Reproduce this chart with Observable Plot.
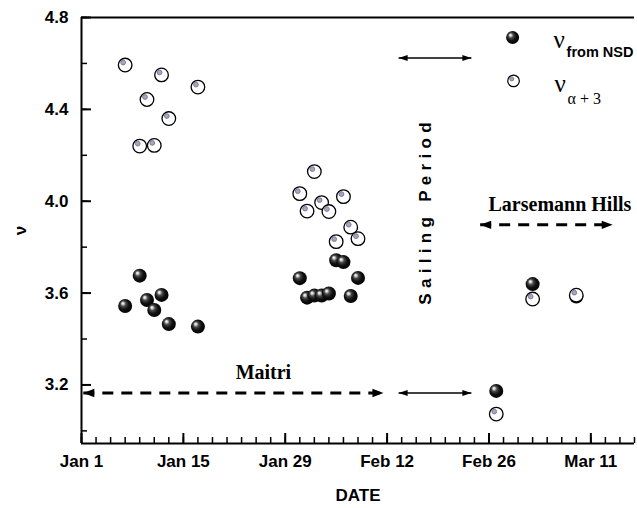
<!DOCTYPE html>
<html><head><meta charset="utf-8">
<script src="https://cdn.jsdelivr.net/npm/d3@7"></script>
<script src="https://cdn.jsdelivr.net/npm/@observablehq/plot@0.6"></script>
<style>body{margin:0;background:#fff}</style>
</head><body><div id="chart"></div>
<script>
// ---- data ----
const nsdDates = ["2004-01-07","2004-01-09","2004-01-10","2004-01-11","2004-01-12","2004-01-13","2004-01-17",
  "2004-01-31","2004-02-01","2004-02-02","2004-02-03","2004-02-04","2004-02-05","2004-02-06","2004-02-07","2004-02-08",
  "2004-02-27","2004-03-03","2004-03-09"];
const nsdValues = [3.544,3.676,3.570,3.526,3.592,3.465,3.454,
  3.665,3.580,3.589,3.589,3.598,3.743,3.735,3.587,3.666,
  3.174,3.639,3.585];
const alphaDates = ["2004-01-07","2004-01-09","2004-01-10","2004-01-11","2004-01-12","2004-01-13","2004-01-17",
  "2004-01-31","2004-02-01","2004-02-02","2004-02-03","2004-02-04","2004-02-05","2004-02-06","2004-02-07","2004-02-08",
  "2004-02-27","2004-03-03","2004-03-09"];
const alphaValues = [4.593,4.240,4.443,4.243,4.550,4.360,4.497,
  4.033,3.957,4.129,3.994,3.955,3.824,4.020,3.887,3.837,
  3.073,3.574,3.591];

const xTickDates = ["2004-01-01","2004-01-15","2004-01-29","2004-02-12","2004-02-26","2004-03-11"];
const yTickValues = [3.2,3.6,4.0,4.4,4.8];
const xDomain = ["2004-01-01","2004-03-17"];
const yDomain = [2.945, 4.8];

// annotations
const dashedStart = ["2004-01-01T06:00Z","2004-02-24T19:00Z"];
const dashedEnd   = ["2004-02-11T12:00Z","2004-03-14T00:00Z"];
const dashedValue = [3.165, 3.897];
const solidStart = ["2004-02-13T14:00Z","2004-02-13T14:00Z"];
const solidEnd   = ["2004-02-23T14:00Z","2004-02-23T14:00Z"];
const solidValue = [4.624, 3.165];
const placeLabels = ["Maitri","Larsemann Hills"];
const placeDates = ["2004-01-26T00:00Z","2004-03-06T18:00Z"];
const placeValues = [3.253, 3.985];
const sailLabel = ["Sailing Period"];
const sailDate = ["2004-02-17T07:00Z"];
const sailValue = [3.958];
const legendKinds = ["nsd","alpha"];
const legendSubs = ["from NSD","α + 3"];
const legendDates = ["2004-02-29T06:00Z","2004-02-29T09:00Z"];
const legendValues = [4.713, 4.524];

// ---- tables ----
const D = s => new Date(s);
const nsd = nsdDates.map((d,i) => ({date: D(d), v: nsdValues[i]}));
const alpha = alphaDates.map((d,i) => ({date: D(d), v: alphaValues[i]}));
const dashed = dashedStart.map((d,i) => ({a: D(d), b: D(dashedEnd[i]), v: dashedValue[i]}));
const solid = solidStart.map((d,i) => ({a: D(d), b: D(solidEnd[i]), v: solidValue[i]}));
const places = placeLabels.map((t,i) => ({t, date: D(placeDates[i]), v: placeValues[i]}));
const sail = sailLabel.map((t,i) => ({t, date: D(sailDate[i]), v: sailValue[i]}));
const legend = legendKinds.map((k,i) => ({k, sub: legendSubs[i], date: D(legendDates[i]), v: legendValues[i]}));
const x0 = D(xDomain[0]), x1 = D(xDomain[1]);
const xTicks = xTickDates.map(D);
const xMinor = d3.range(0, 77, 2).map(k => d3.utcDay.offset(x0, k));
const yMinor = d3.range(3.0, 4.81, 0.2).map(v => +v.toFixed(1));

const W = 637, H = 508, mL = 81, mR = 3, mT = 17, mB = 65;
const innerW = W - mL - mR, innerH = H - mT - mB;

const head = (len, half) => ({draw(ctx){ ctx.moveTo(0,0); ctx.lineTo(-len,-half); ctx.lineTo(-len,half); ctx.closePath(); }});
const serif = "'Liberation Serif','Times New Roman',serif";
const sans = "'Liberation Sans',Arial,sans-serif";

const plot = Plot.plot({
  width: W, height: H, marginLeft: mL, marginRight: mR, marginTop: mT, marginBottom: mB,
  style: {fontFamily: sans, fontWeight: "bold", background: "#fff", color: "#000", overflow: "visible"},
  x: {type: "utc", domain: [x0, x1]},
  y: {domain: yDomain},
  marks: [
    Plot.axisX(xTicks, {tickSize: 0, tickPadding: 11, tickFormat: d3.utcFormat("%b %-d"), fontSize: 17,
      label: "DATE", labelAnchor: "center", labelOffset: 57, labelArrow: "none"}),
    Plot.axisY(yTickValues, {tickSize: 0, tickPadding: 13, tickFormat: d3.format(".1f"), fontSize: 17,
      label: "ν", labelAnchor: "center", labelOffset: 68, labelArrow: "none"}),
    // ticks pointing inward
    Plot.ruleX(xMinor, {x: d => d, insetTop: innerH - 6, strokeWidth: 1.5}),
    Plot.ruleX(xTicks, {x: d => d, insetTop: innerH - 10, strokeWidth: 2}),
    Plot.ruleY(yMinor, {y: d => d, insetRight: innerW - 6, strokeWidth: 1.5}),
    Plot.ruleY(yTickValues, {y: d => d, insetRight: innerW - 10, strokeWidth: 2}),
    // frame
    Plot.ruleX([x0], {strokeWidth: 2}),
    Plot.ruleY([yDomain[0]], {strokeWidth: 2}),
    Plot.ruleY([yDomain[1]], {strokeWidth: 2}),
    // arrows
    Plot.link(dashed, {x1: "a", x2: "b", y1: "v", y2: "v", strokeWidth: 3, strokeDasharray: "11,8", stroke: "black"}),
    Plot.dot(dashed, {x: "b", y: "v", symbol: head(11, 4.2), fill: "black", stroke: "none"}),
    Plot.dot(dashed, {x: "a", y: "v", symbol: head(11, 4.2), rotate: 180, fill: "black", stroke: "none"}),
    Plot.link(solid, {x1: "a", x2: "b", y1: "v", y2: "v", strokeWidth: 1.5, stroke: "black"}),
    Plot.dot(solid, {x: "b", y: "v", symbol: head(9, 3), fill: "black", stroke: "none"}),
    Plot.dot(solid, {x: "a", y: "v", symbol: head(9, 3), rotate: 180, fill: "black", stroke: "none"}),
    // labels
    Plot.text(places, {x: "date", y: "v", text: "t", fontFamily: serif, fontSize: 20, fontWeight: "bold"}),
    Plot.text(sail, {x: "date", y: "v", text: "t", rotate: -90, fontFamily: sans, fontSize: 17, fontWeight: "bold"}),
    // data
    Plot.dot(nsd, {x: "date", y: "v", r: 7, fill: "url(#ball)", stroke: "none"}),
    Plot.dot(alpha, {x: "date", y: "v", r: 6.8, fill: "white", stroke: "black", strokeWidth: 1.3}),
    Plot.dot(alpha, {x: "date", y: "v", r: 2.4, dx: -2, dy: -2.5, fill: "#a6a6bf", stroke: "#6a6a86", strokeWidth: 0.8}),
    // legend
    Plot.dot(legend.filter(d => d.k === "nsd"), {x: "date", y: "v", r: 6.5, fill: "url(#ball)", stroke: "none"}),
    Plot.dot(legend.filter(d => d.k === "alpha"), {x: "date", y: "v", r: 5.8, fill: "white", stroke: "black", strokeWidth: 1.2}),
    Plot.dot(legend.filter(d => d.k === "alpha"), {x: "date", y: "v", r: 2, dx: -1.8, dy: -2, fill: "#a6a6bf", stroke: "#6a6a86", strokeWidth: 0.8}),
    Plot.text(legend, {x: "date", y: "v", text: d => "ν", dx: 41, dy: 11, textAnchor: "start", lineAnchor: "bottom",
      fontFamily: serif, fontSize: 25, fontWeight: "normal"}),
    Plot.text(legend.filter(d => d.k === "nsd"), {x: "date", y: "v", text: "sub", dx: 54, dy: 20, textAnchor: "start", lineAnchor: "bottom",
      fontFamily: sans, fontSize: 14.5, fontWeight: "bold"}),
    Plot.text(legend.filter(d => d.k === "alpha"), {x: "date", y: "v", text: "sub", dx: 54, dy: 23, textAnchor: "start", lineAnchor: "bottom",
      fontFamily: serif, fontSize: 16, fontWeight: "normal"})
  ]
});

const svg = d3.select(plot);
const defs = svg.insert("defs", ":first-child");
const g = defs.append("radialGradient").attr("id", "ball").attr("cx", "45%").attr("cy", "45%").attr("r", "60%")
  .attr("fx", "32%").attr("fy", "30%");
[[0, "#ffffff"], [0.12, "#d8d8d8"], [0.32, "#4a4a4a"], [0.6, "#111"], [1, "#000"]].forEach(([o, c]) =>
  g.append("stop").attr("offset", o).attr("stop-color", c));
svg.selectAll("text").filter(function(){ return this.textContent === "Sailing Period"; })
  .attr("letter-spacing", 5.3);
document.getElementById("chart").appendChild(plot);
</script>
</body></html>
